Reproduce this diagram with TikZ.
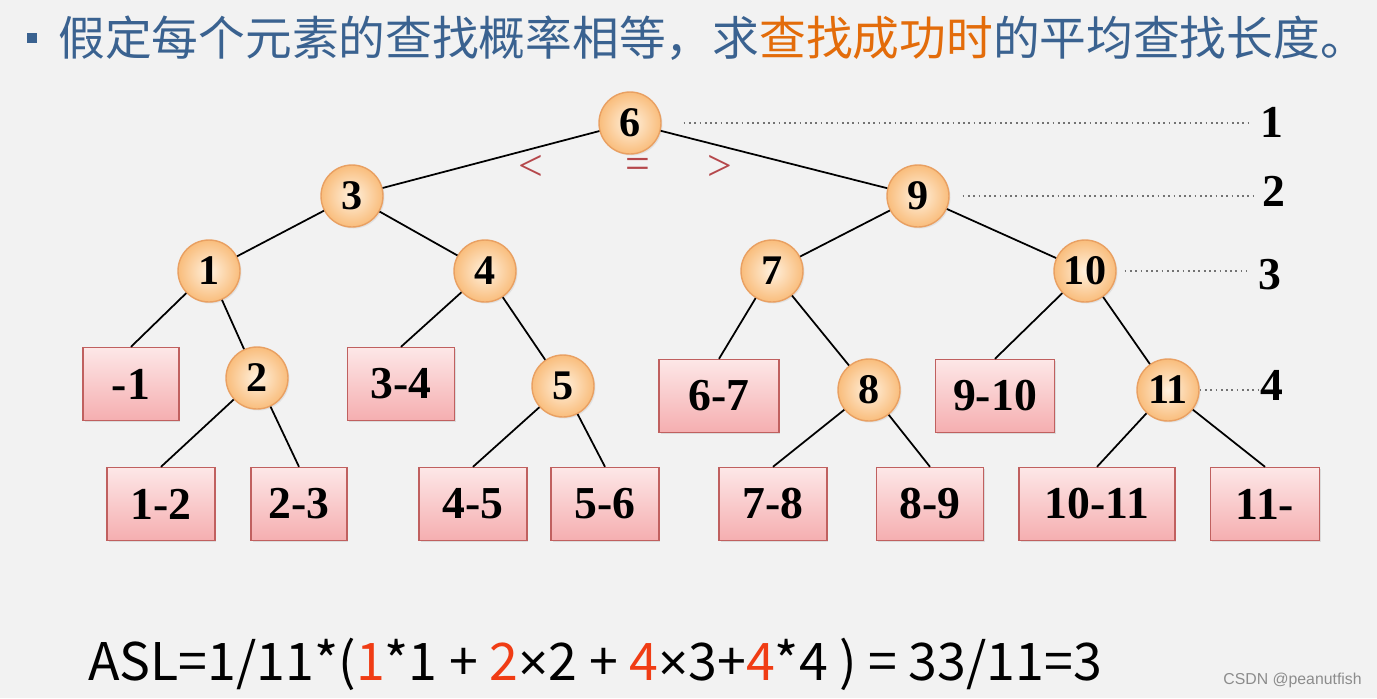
\documentclass[tikz,border=0pt]{standalone}
\usepackage{fontspec}
\setmainfont{Liberation Serif}
\newfontfamily\cjk{Noto Sans CJK SC}
\newfontfamily\marksf{Liberation Sans}
\usetikzlibrary{positioning,shadows}
\definecolor{bg}{HTML}{F2F2F2}
\definecolor{headblue}{HTML}{3A6290}
\definecolor{hot}{HTML}{E36C0A}
\definecolor{keyin}{HTML}{FFF1DE}
\definecolor{keyout}{HTML}{F9BD7C}
\definecolor{keyline}{HTML}{E9A062}
\definecolor{gaptop}{HTML}{FDE7E7}
\definecolor{gapbot}{HTML}{F5AEB0}
\definecolor{gapline}{HTML}{C0605F}
\definecolor{cmp}{HTML}{B5474B}
\definecolor{cnt}{HTML}{F03C14}
\newcommand{\hl}[1]{\textcolor{cnt}{#1}}
\newcommand{\tms}{{\marksf ×}}

\begin{document}
\begin{tikzpicture}[x=0.02cm, y=-0.02cm,
    key/.style={circle, draw=keyline, line width=0.8pt, inner color=keyin, outer color=keyout,
      minimum size=1.24cm, inner sep=0pt, font=\fontsize{24}{24}\selectfont\bfseries,
      drop shadow={opacity=0.15, shadow xshift=0.03cm, shadow yshift=-0.03cm}},
    gap/.style={rectangle, draw=gapline, line width=0.8pt, top color=gaptop, bottom color=gapbot,
      minimum height=1.46cm, inner sep=0pt, font=\fontsize{26}{26}\selectfont\bfseries,
      drop shadow={opacity=0.2, shadow xshift=0.03cm, shadow yshift=-0.03cm}},
    lvl/.style={inner sep=0pt, font=\fontsize{26}{26}\selectfont\bfseries},
    cmpsign/.style={inner sep=0pt, text=cmp, font=\fontsize{25}{25}\selectfont},
    edge/.style={line width=1pt},
    guide/.style={dotted, line width=1pt, black!55}]
    \fill[bg] (0,0) rectangle (1377,698);
    \useasboundingbox (0,0) rectangle (1377,698);

    % heading
    \fill[headblue] (27,33) rectangle (37,43);
    \node[anchor=west, inner sep=0pt, text=headblue, font=\cjk\fontsize{26.6}{30}\selectfont] (head) at (58,38)
      {假定每个元素的查找概率相等，求\textcolor{hot}{查找成功时}的平均查找长度。};

    % inner nodes, one per key
    \node[key] (n6) at (630,123) {6};
    \node[key] (n3) at (352,196) {3};
    \node[key] (n9) at (918,196) {9};
    \node[key] (n1) at (209,271) {1};
    \node[key] (n4) at (485,271) {4};
    \node[key] (n7) at (772,271) {7};
    \node[key] (n10) at (1085,271) {10};
    \node[key] (n2) at (257,378) {2};
    \node[key] (n5) at (563,386) {5};
    \node[key] (n8) at (869,390) {8};
    \node[key] (n11) at (1168,390) {11};

    % failure intervals
    \node[gap, minimum width=1.92cm] (gm1) at (131,384) {-1};
    \node[gap, minimum width=2.14cm] (g34) at (401,384) {3-4};
    \node[gap, minimum width=2.40cm] (g67) at (719,396) {6-7};
    \node[gap, minimum width=2.38cm] (g910) at (995,396) {9-10};
    \node[gap, minimum width=2.16cm] (g12) at (161,504) {1-2};
    \node[gap, minimum width=1.92cm] (g23) at (299,504) {2-3};
    \node[gap, minimum width=2.16cm] (g45) at (473,504) {4-5};
    \node[gap, minimum width=2.16cm] (g56) at (605,504) {5-6};
    \node[gap, minimum width=2.16cm] (g78) at (773,504) {7-8};
    \node[gap, minimum width=2.14cm] (g89) at (930,504) {8-9};
    \node[gap, minimum width=3.12cm] (g1011) at (1097,504) {10-11};
    \node[gap, minimum width=2.18cm] (g11) at (1265,504) {11-};

    \draw[edge] (n6) -- (n3);
    \draw[edge] (n6) -- (n9);
    \draw[edge] (n3) -- (n1);
    \draw[edge] (n3) -- (n4);
    \draw[edge] (n9) -- (n7);
    \draw[edge] (n9) -- (n10);
    \draw[edge] (n1) -- (gm1.north);
    \draw[edge] (n1) -- (n2);
    \draw[edge] (n2) -- (g12.north);
    \draw[edge] (n2) -- (g23.north);
    \draw[edge] (n4) -- (g34.north);
    \draw[edge] (n4) -- (n5);
    \draw[edge] (n5) -- (g45.north);
    \draw[edge] (n5) -- (g56.north);
    \draw[edge] (n7) -- (g67.north);
    \draw[edge] (n7) -- (n8);
    \draw[edge] (n8) -- (g78.north);
    \draw[edge] (n8) -- (g89.north);
    \draw[edge] (n10) -- (g910.north);
    \draw[edge] (n10) -- (n11);
    \draw[edge] (n11) -- (g1011.north);
    \draw[edge] (n11) -- (g11.north);

    \node[cmpsign] (lt) at (531,168) {<};
    \node[cmpsign] (eq) at (638,168) {=};
    \node[cmpsign] (gt) at (720,168) {>};

    % levels
    \node[lvl] (L1) at (1272,122) {1};
    \node[lvl] (L2) at (1274,191) {2};
    \node[lvl] (L3) at (1270,275) {3};
    \node[lvl] (L4) at (1272,385) {4};
    \draw[guide, shorten <=0.44cm, shorten >=0.2cm] (n6.east) -- (n6.east -| L1.west);
    \draw[guide, shorten <=0.26cm, shorten >=0.14cm] (n9.east) -- (n9.east -| L2.west);
    \draw[guide, shorten <=0.16cm, shorten >=0.22cm] (n10.east) -- (n10.east -| L3.west);
    \draw[guide] (n11.east) -- (n11.east -| L4.west);

    \node[anchor=base west, inner sep=0pt, font=\cjk\fontsize{29.5}{30}\selectfont] (asl) at (88,680)
      {ASL=1/11*(\hl{1}*1 + \hl{2}\tms2 + \hl{4}\tms3+\hl{4}*4 ) = 33/11=3};
    \node[anchor=east, inner sep=0pt, text=black!45, font=\marksf\fontsize{9}{9}\selectfont] (mark) at (1362,680)
      {CSDN @peanutfish};
  \end{tikzpicture}
\end{document}
